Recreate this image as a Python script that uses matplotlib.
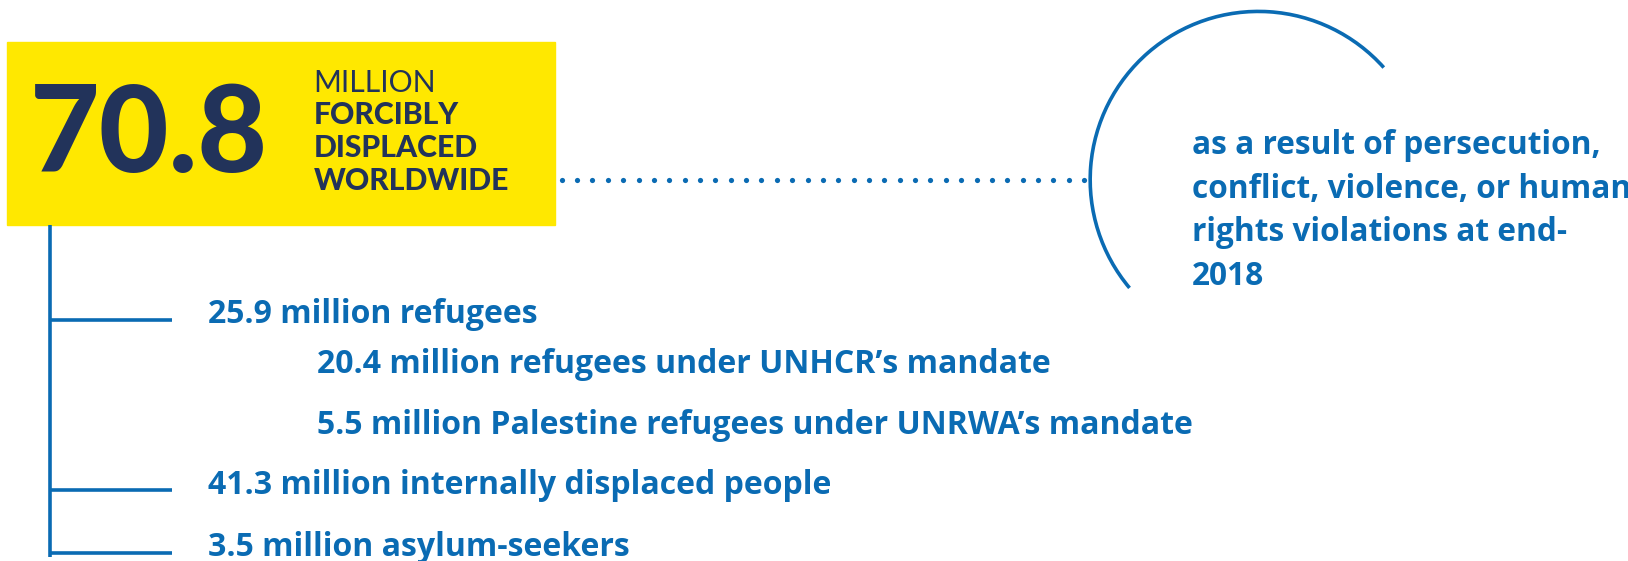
import numpy as np
import matplotlib.pyplot as plt
from matplotlib.patches import Rectangle, Arc

# headline figure
total = "70.8"
total_unit = "MILLION"
total_desc = ["FORCIBLY", "DISPLACED", "WORLDWIDE"]
note_lines = ["as a result of persecution,", "conflict, violence, or human",
              "rights violations at end-", "2018"]

# breakdown (label, indent level)
items = ["25.9 million refugees",
         "20.4 million refugees under UNHCR\u2019s mandate",
         "5.5 million Palestine refugees under UNRWA\u2019s mandate",
         "41.3 million internally displaced people",
         "3.5 million asylum-seekers"]
levels = [0, 1, 1, 0, 0]

yellow = "#FFE800"
navy = "#22335A"
blue = "#0A6BB3"

# layout units: 1568 x 540 canvas, scaled to the 1628 x 561 output
W, H = 1568, 540
S = 1628 / W

def pt(px):
    return px * S * 72 / 100.0

fig = plt.figure(figsize=(16.28, 5.61), dpi=100)
ax = fig.add_axes([0, 0, 1, 1])
ax.set_xlim(0, W)
ax.set_ylim(H, 0)
ax.axis("off")

# yellow box
ax.add_patch(Rectangle((7, 40), 528, 177, color=yellow, zorder=1))
ax.text(29, 132, total, fontsize=pt(116), fontweight="black", color=navy,
        family="Lato", va="center", ha="left", zorder=2)
ax.text(302, 80, total_unit, fontsize=pt(29), color=navy, family="Lato",
        va="center", ha="left", zorder=2)
for i, s in enumerate(total_desc):
    ax.text(302, 111 + i * 31.5, s, fontsize=pt(29), fontweight="black",
            color=navy, family="Lato", va="center", ha="left", zorder=2)

# dotted connector
dots = np.arange(541, 1050, 14.8)
ax.scatter(dots, np.full(len(dots), 173), s=14, color=blue, lw=0)

# arc
ax.add_patch(Arc((1212, 173), 324, 324, theta1=140, theta2=318.2,
                 color=blue, lw=2.6))
for i, s in enumerate(note_lines):
    ax.text(1148, 140 + i * 42, s, fontsize=pt(30.5), fontweight="bold",
            color=blue, family="Open Sans", va="center", ha="left")

# tree
ax.plot([48, 48], [217, 536], color=blue, lw=2.6, solid_capstyle="butt")
ys = [303, 351, 410, 467, 527]
for lab, lev, y in zip(items, levels, ys):
    if lev == 0:
        ax.plot([48, 166], [y + 5, y + 5], color=blue, lw=2.6,
                solid_capstyle="butt")
    x = 200 if lev == 0 else 305
    ax.text(x, y, lab, fontsize=pt(30.8), fontweight="bold", color=blue,
            family="Open Sans", va="center", ha="left")

fig.savefig("out.png", dpi=100, facecolor="white")
